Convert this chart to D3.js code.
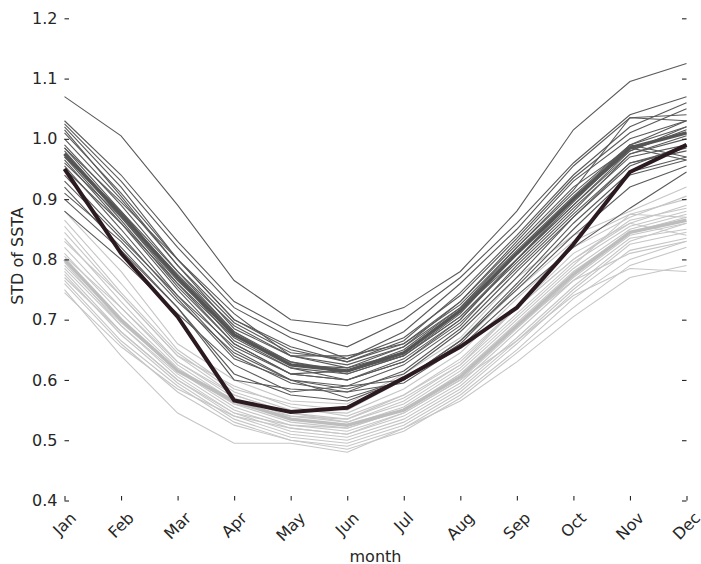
<!DOCTYPE html>
<html>
<head>
<meta charset="utf-8">
<script src="https://cdn.jsdelivr.net/npm/d3@7"></script>
<style>
  body { margin: 0; background: #fff; }
  svg { display: block; }
  text { font-family: "DejaVu Sans", sans-serif; fill: #262626; }
</style>
</head>
<body>
<svg id="chart" width="701" height="564"></svg>
<script>
const months = ["Jan","Feb","Mar","Apr","May","Jun","Jul","Aug","Sep","Oct","Nov","Dec"];
const yTicks = [0.4,0.5,0.6,0.7,0.8,0.9,1.0,1.1,1.2];

// Observation (thick dark line)
const obs = [0.95,0.81,0.705,0.566,0.547,0.554,0.603,0.655,0.72,0.825,0.945,0.99];
// Ensemble means
const darkMean = [0.975,0.875,0.77,0.675,0.625,0.615,0.645,0.715,0.81,0.90,0.985,1.01];
const lightMean = [0.80,0.70,0.615,0.565,0.535,0.525,0.55,0.605,0.69,0.775,0.845,0.865];

// Dark-grey group of individual models
const darkLines = [
  [1.07,1.005,0.89,0.765,0.70,0.69,0.72,0.78,0.88,1.015,1.095,1.125],
  [1.03,0.94,0.83,0.73,0.68,0.655,0.70,0.77,0.86,0.96,1.04,1.07],
  [1.025,0.93,0.82,0.72,0.67,0.635,0.68,0.76,0.85,0.955,1.035,1.04],
  [1.02,0.92,0.80,0.70,0.655,0.63,0.665,0.745,0.84,0.94,1.02,1.06],
  [1.01,0.91,0.80,0.71,0.64,0.62,0.655,0.73,0.83,0.93,1.00,1.03],
  [0.99,0.89,0.78,0.68,0.63,0.615,0.65,0.72,0.82,0.91,0.99,1.02],
  [0.985,0.88,0.77,0.665,0.62,0.61,0.64,0.71,0.81,0.90,0.98,1.015],
  [0.98,0.875,0.775,0.68,0.625,0.62,0.645,0.715,0.80,0.89,0.975,1.00],
  [0.975,0.87,0.76,0.66,0.61,0.60,0.63,0.70,0.80,0.895,0.985,1.01],
  [0.97,0.88,0.78,0.69,0.64,0.625,0.655,0.72,0.815,0.905,0.99,1.03],
  [0.965,0.86,0.75,0.65,0.60,0.59,0.625,0.69,0.79,0.88,0.975,1.005],
  [0.96,0.87,0.765,0.675,0.63,0.61,0.64,0.705,0.795,0.885,0.97,0.99],
  [0.955,0.85,0.74,0.64,0.595,0.58,0.615,0.685,0.78,0.87,0.96,0.985],
  [0.95,0.86,0.76,0.67,0.62,0.60,0.635,0.70,0.80,0.89,0.98,1.02],
  [0.94,0.84,0.735,0.635,0.60,0.57,0.60,0.665,0.76,0.86,0.945,0.97],
  [0.93,0.835,0.74,0.655,0.61,0.60,0.63,0.695,0.785,0.875,0.96,0.98],
  [0.92,0.82,0.72,0.61,0.575,0.565,0.60,0.66,0.755,0.85,0.94,0.965],
  [0.91,0.83,0.73,0.645,0.60,0.585,0.61,0.68,0.77,0.87,0.955,0.99],
  [0.90,0.815,0.72,0.60,0.585,0.58,0.595,0.655,0.74,0.82,0.885,0.945],
  [0.88,0.80,0.71,0.625,0.58,0.59,0.60,0.665,0.75,0.84,0.92,0.955],
  [1.00,0.90,0.79,0.695,0.645,0.635,0.67,0.74,0.835,0.935,1.01,1.05],
  [0.985,0.895,0.80,0.70,0.65,0.63,0.66,0.73,0.825,0.92,0.985,0.965],
  [0.97,0.865,0.755,0.66,0.61,0.615,0.64,0.705,0.80,0.90,0.99,0.97],
  [1.015,0.905,0.79,0.685,0.64,0.64,0.66,0.725,0.82,0.915,1.035,1.03]
];

// Light-grey group of individual models
const lightLines = [
  [0.88,0.78,0.66,0.60,0.565,0.56,0.61,0.67,0.77,0.84,0.88,0.92],
  [0.865,0.76,0.65,0.585,0.56,0.55,0.60,0.66,0.75,0.83,0.875,0.90],
  [0.855,0.745,0.645,0.58,0.55,0.545,0.585,0.645,0.735,0.82,0.87,0.905],
  [0.845,0.74,0.64,0.575,0.545,0.535,0.575,0.635,0.72,0.80,0.86,0.89],
  [0.835,0.73,0.63,0.57,0.54,0.53,0.565,0.625,0.71,0.795,0.855,0.88],
  [0.82,0.72,0.625,0.565,0.535,0.525,0.555,0.615,0.70,0.785,0.85,0.875],
  [0.81,0.71,0.62,0.56,0.53,0.52,0.55,0.61,0.695,0.78,0.845,0.87],
  [0.80,0.70,0.615,0.555,0.525,0.515,0.545,0.60,0.685,0.77,0.84,0.86],
  [0.795,0.69,0.61,0.55,0.52,0.51,0.54,0.595,0.68,0.765,0.835,0.85],
  [0.785,0.69,0.605,0.545,0.515,0.505,0.535,0.59,0.67,0.755,0.83,0.86],
  [0.78,0.68,0.60,0.54,0.51,0.50,0.53,0.585,0.665,0.75,0.825,0.845],
  [0.775,0.675,0.595,0.535,0.505,0.495,0.525,0.58,0.66,0.745,0.815,0.835],
  [0.765,0.665,0.59,0.53,0.50,0.49,0.52,0.575,0.65,0.735,0.80,0.83],
  [0.76,0.66,0.58,0.525,0.50,0.485,0.515,0.57,0.645,0.72,0.79,0.82],
  [0.75,0.64,0.545,0.495,0.495,0.48,0.52,0.565,0.63,0.705,0.77,0.79],
  [0.745,0.655,0.585,0.54,0.52,0.51,0.545,0.60,0.665,0.74,0.785,0.78],
  [0.83,0.74,0.64,0.59,0.555,0.54,0.575,0.63,0.72,0.80,0.865,0.885],
  [0.805,0.72,0.63,0.575,0.545,0.53,0.56,0.62,0.705,0.79,0.875,0.87],
  [0.79,0.695,0.615,0.56,0.54,0.535,0.57,0.625,0.72,0.81,0.86,0.84],
  [0.77,0.68,0.60,0.545,0.525,0.52,0.55,0.61,0.69,0.765,0.81,0.83]
];

const svg = d3.select("#chart");
const x = d3.scalePoint().domain(months).range([64.5, 686.5]);
const y = d3.scaleLinear().domain([0.4, 1.2]).range([500.5, 18.3]);

const line = d3.line().x((d, i) => x(months[i])).y(d => y(d));

const g = svg.append("g");
g.selectAll("path.light").data(lightLines).join("path")
  .attr("class", "light").attr("d", line)
  .attr("fill", "none").attr("stroke", "#c6c6c6").attr("stroke-width", 1.1);
g.selectAll("path.dark").data(darkLines).join("path")
  .attr("class", "dark").attr("d", line)
  .attr("fill", "none").attr("stroke", "#5a5a5a").attr("stroke-width", 1.1);
g.append("path").datum(lightMean).attr("d", line)
  .attr("fill", "none").attr("stroke", "#bdbdbd").attr("stroke-width", 3.5);
g.append("path").datum(darkMean).attr("d", line)
  .attr("fill", "none").attr("stroke", "#555555").attr("stroke-width", 3.5);
g.append("path").datum(obs).attr("d", line)
  .attr("fill", "none").attr("stroke", "#2b1a1f").attr("stroke-width", 4);

// Axes (no spines, inward ticks)
const left = svg.append("g").attr("transform", `translate(${x.range()[0]},0)`)
  .call(d3.axisLeft(y).tickValues(yTicks).tickFormat(d3.format(".1f")).tickSizeInner(-4.5).tickSizeOuter(0).tickPadding(7));
left.select(".domain").remove();
left.selectAll("line").attr("stroke", "#262626").attr("stroke-width", 1.1);
left.selectAll("text").attr("font-size", 16).attr("fill", "#262626").attr("font-family", "DejaVu Sans");

const right = svg.append("g").attr("transform", `translate(${x.range()[1]},0)`)
  .call(d3.axisRight(y).tickValues(yTicks).tickFormat("").tickSizeInner(-4.5).tickSizeOuter(0));
right.select(".domain").remove();
right.selectAll("line").attr("stroke", "#262626").attr("stroke-width", 1.1);

const bottom = svg.append("g").attr("transform", `translate(0,${y(0.4)})`)
  .call(d3.axisBottom(x).tickSizeInner(-4.5).tickSizeOuter(0).tickFormat(""));
bottom.select(".domain").remove();
bottom.selectAll("line").attr("stroke", "#262626").attr("stroke-width", 1.1);

// Rotated month labels (bbox centered under tick, top at fixed y)
const labelTop = 508.5;
const fs = 16;
const lab = svg.append("g");
months.forEach(m => {
  const t = lab.append("text").text(m).attr("font-size", fs)
    .attr("text-anchor", "middle").attr("dominant-baseline", "central");
  const w = t.node().getComputedTextLength();
  const h = fs * 1.164;
  const half = (w + h) / (2 * Math.SQRT2);
  t.attr("transform", `translate(${x(m)},${labelTop + half}) rotate(-45)`);
});

svg.append("text").text("month").attr("x", 375.5).attr("y", 561.5)
  .attr("text-anchor", "middle").attr("font-size", 16);
svg.append("text").text("STD of SSTA")
  .attr("transform", "translate(22.5,256) rotate(-90)")
  .attr("text-anchor", "middle").attr("font-size", 16);
</script>
</body>
</html>
